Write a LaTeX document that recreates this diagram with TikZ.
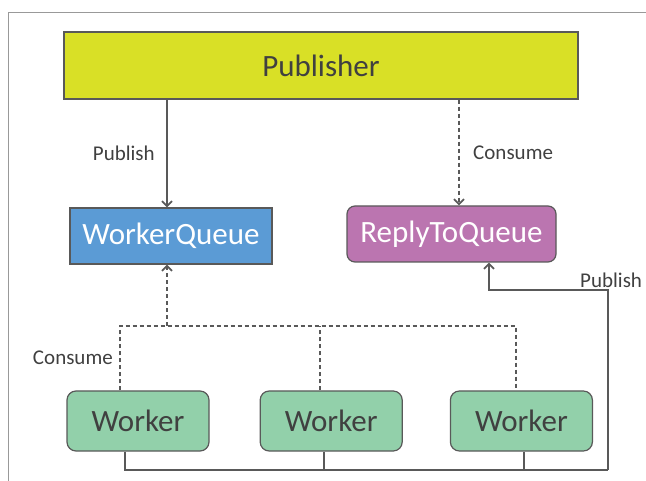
\documentclass[tikz,border=0pt]{standalone}
\usepackage{fontspec}
\setmainfont{Carlito}
\usepackage{xcolor}
\usetikzlibrary{arrows.meta, positioning}

\definecolor{pubfill}{RGB}{217,224,38}
\definecolor{wqfill}{RGB}{91,155,213}
\definecolor{rqfill}{RGB}{187,117,176}
\definecolor{wkfill}{RGB}{146,208,170}
\definecolor{edge}{RGB}{89,89,89}
\definecolor{ink}{RGB}{64,64,64}

\begin{document}
\begin{tikzpicture}[
    x=1pt, y=-1pt,
    box/.style={rectangle, draw=edge, line width=1.2pt, inner sep=0pt,
                font=\fontsize{31}{34}\selectfont, text=ink},
    pubbox/.style={box, fill=pubfill, minimum width=514pt, minimum height=67pt},
    queue/.style={box, fill=wqfill, text=white, minimum width=202pt, minimum height=56pt},
    reply/.style={queue, fill=rqfill, rounded corners=8pt, minimum width=209pt},
    worker/.style={box, fill=wkfill, rounded corners=9pt, minimum width=142pt, minimum height=60pt},
    lbl/.style={font=\fontsize{21}{24}\selectfont, text=ink},
    wire/.style={draw=edge, line width=1.8pt},
    dwire/.style={wire, dash pattern=on 4pt off 3pt},
    arr/.style={wire, -{Straight Barb[length=5pt, width=10pt]}},
  ]
    \useasboundingbox (0,0) rectangle (646,481);
    % frame
    \draw[draw=gray!80, line width=1pt] (8,481) -- (8,13) -- (646,13);

    \node[pubbox] (pub) at (321,65.5) {Publisher};
    \node[queue]  (wq)  at (171,236) {WorkerQueue};
    \node[reply]  (rq)  at (451.5,234) {ReplyToQueue};
    \node[worker] (w1)  at (138,421) {Worker};
    \node[worker, right=50pt of w1] (w2) {Worker};
    \node[worker, right=47pt of w2] (w3) {Worker};

    \coordinate (cj) at (167,326);
    \coordinate (bb) at (608,470);
    \coordinate (rt) at (608,290);

    % publisher side
    \draw[arr] (pub.south -| cj) -- node[lbl, left=8pt]{Publish} (wq.north -| cj);
    \draw[arr, dwire] (pub.south -| 459,0) -- node[lbl, right=10pt]{Consume} (rq.north -| 459,0);

    % workers consume
    \draw[dwire] ([xshift=-18pt]w1.north) -- node[lbl, left=3pt]{Consume} ([xshift=-18pt]w1.north |- cj)
        -- ([xshift=-5.5pt]w3.north |- cj) -- ([xshift=-5.5pt]w3.north);
    \draw[dwire] ([xshift=-11pt]w2.north) -- ([xshift=-11pt]w2.north |- cj);
    \draw[arr, dwire] (cj) -- (wq.south -| cj);

    % workers publish
    \draw[wire] ([xshift=-13pt]w1.south) |- (bb);
    \draw[wire] ([xshift=-7pt]w2.south) -- ([xshift=-7pt]w2.south |- bb);
    \draw[wire] ([xshift=2.5pt]w3.south) -- ([xshift=2.5pt]w3.south |- bb);
    \draw[arr] (bb) -- (rt) -| node[lbl, pos=0, above right=-2pt and -32pt]{Publish} ([xshift=37.5pt]rq.south);
\end{tikzpicture}
\end{document}
